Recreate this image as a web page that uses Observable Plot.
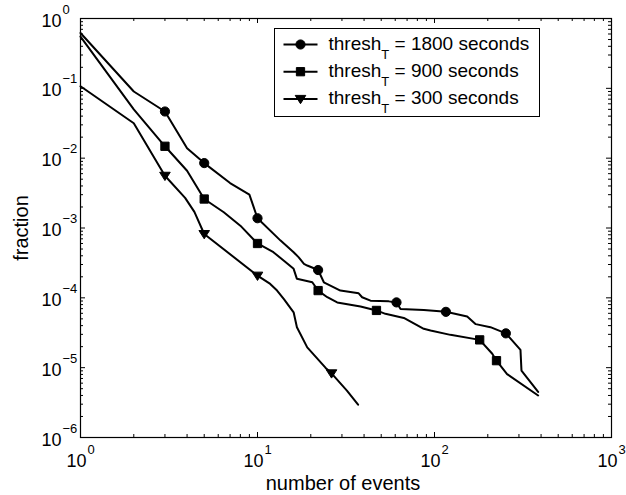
<!DOCTYPE html>
<html><head><meta charset="utf-8">
<script src="https://cdn.jsdelivr.net/npm/d3@7"></script>
<script src="https://cdn.jsdelivr.net/npm/@observablehq/plot@0.6"></script>
<style>body{margin:0;background:#fff}</style>
</head><body><div id="chart"></div>
<script>
// ---- data ----
const legendValues = [1800, 900, 300];

const x1800 = [1, 2, 3, 4, 5, 7, 9, 10, 13.5, 16, 17.1, 18.3, 19.1, 22, 23.7, 29.4, 37.3, 39, 43.5, 55.2, 61, 64.3, 87, 116, 153, 171, 207, 253, 306, 310, 385];
const y1800 = [0.62, 0.090, 0.0466, 0.0139, 0.0085, 0.0044, 0.0030, 0.00138, 6.6e-4, 4.5e-4, 3.8e-4, 3.06e-4, 2.9e-4, 2.5e-4, 1.67e-4, 1.27e-4, 1.16e-4, 1.02e-4, 9.1e-5, 8.9e-5, 8.6e-5, 6.9e-5, 6.7e-5, 6.3e-5, 5.4e-5, 4.2e-5, 3.8e-5, 3.1e-5, 1.8e-5, 9.1e-6, 4.5e-6];
const mx1800 = [3, 5, 10, 22, 61, 116, 253];
const my1800 = [0.0466, 0.0085, 0.00138, 2.5e-4, 8.6e-5, 6.3e-5, 3.1e-5];

const x900 = [1, 2, 3, 4, 5, 6.45, 8, 10, 12.3, 14.1, 16, 16.7, 20.4, 22, 24.8, 28.2, 38.2, 47, 52.8, 67.1, 87, 95, 123, 180, 212, 224, 257, 385];
const y900 = [0.55, 0.05, 0.0148, 0.0066, 0.0026, 0.00168, 0.00108, 6.0e-4, 4.5e-4, 3.4e-4, 2.6e-4, 1.87e-4, 1.67e-4, 1.27e-4, 1.02e-4, 8.6e-5, 7.5e-5, 6.6e-5, 5.9e-5, 5.15e-5, 3.6e-5, 3.4e-5, 2.95e-5, 2.5e-5, 1.58e-5, 1.26e-5, 8.1e-6, 4.0e-6];
const mx900 = [3, 5, 10, 22, 47, 180, 224];
const my900 = [0.0148, 0.0026, 6.0e-4, 1.27e-4, 6.6e-5, 2.5e-5, 1.26e-5];

const x300 = [1, 2, 3, 3.9, 4.4, 5, 10, 11.8, 12.9, 14.1, 16, 16.7, 19.1, 24.2, 26.2, 32, 37];
const y300 = [0.107, 0.0316, 0.0056, 0.0027, 0.0017, 8.2e-4, 2.08e-4, 1.58e-4, 1.27e-4, 9.6e-5, 6.2e-5, 3.8e-5, 1.95e-5, 1.0e-5, 8.3e-6, 4.7e-6, 2.95e-6];
const mx300 = [3, 5, 10, 26.2];
const my300 = [0.0056, 8.2e-4, 2.08e-4, 8.3e-6];

const xDecades = [1, 10, 100, 1000];
const xExponents = ["0", "1", "2", "3"];
const yDecades = [1e-6, 1e-5, 1e-4, 1e-3, 1e-2, 1e-1, 1];
const yExponents = ["\u22126", "\u22125", "\u22124", "\u22123", "\u22122", "\u22121", "0"];
const xLabel = "number of events";
const yLabel = "fraction";

// ---- helpers ----
const zip = (xs, ys) => xs.map((x, i) => ({x, y: ys[i]}));
const minorOf = (decades) => decades.slice(0, -1).flatMap(d => [2,3,4,5,6,7,8,9].map(m => m * d));

const circleSym = {draw(c, s) { const r = Math.sqrt(s / Math.PI); c.moveTo(r, 0); c.arc(0, 0, r, 0, 2 * Math.PI); }};
const squareSym = {draw(c, s) { const r = Math.sqrt(s / Math.PI) * 0.9; c.moveTo(-r, -r); c.lineTo(r, -r); c.lineTo(r, r); c.lineTo(-r, r); c.closePath(); }};
const triSym = {draw(c, s) { const r = Math.sqrt(s / Math.PI); const w = r * 1.15, h = r * 0.95; c.moveTo(-w, -h * 0.8); c.lineTo(w, -h * 0.8); c.lineTo(0, h * 1.1); c.closePath(); }};
const lineSym = {draw(c, s) { c.moveTo(-17, 0); c.lineTo(17, 0); }};

const seriesDefs = [
  {v: legendValues[0], line: zip(x1800, y1800), marks: zip(mx1800, my1800), sym: circleSym},
  {v: legendValues[1], line: zip(x900, y900), marks: zip(mx900, my900), sym: squareSym},
  {v: legendValues[2], line: zip(x300, y300), marks: zip(mx300, my300), sym: triSym}
];

const W = 626, H = 495, mT = 18, mR = 15, mB = 58, mL = 80;
const iW = W - mL - mR, iH = H - mT - mB;
const FONT = "'Liberation Sans', Arial, Helvetica, sans-serif";
const tickFs = 18, expFs = 13, labelFs = 20, legFs = 19, subFs = 13;

const cv = document.createElement("canvas").getContext("2d");
const measure = (t, fs) => { cv.font = `${fs}px ${FONT}`; return cv.measureText(t).width; };

const majLen = 5, minLen = 3;
const xMinor = minorOf(xDecades), yMinor = minorOf(yDecades);

const marks = [
  // ticks (inward, all four sides)
  Plot.ruleX(xDecades, {insetTop: iH - majLen, stroke: "black"}),
  Plot.ruleX(xDecades, {insetBottom: iH - majLen, stroke: "black"}),
  Plot.ruleX(xMinor, {insetTop: iH - minLen, stroke: "black"}),
  Plot.ruleX(xMinor, {insetBottom: iH - minLen, stroke: "black"}),
  Plot.ruleY(yDecades, {insetRight: iW - majLen, stroke: "black"}),
  Plot.ruleY(yDecades, {insetLeft: iW - majLen, stroke: "black"}),
  Plot.ruleY(yMinor, {insetRight: iW - minLen, stroke: "black"}),
  Plot.ruleY(yMinor, {insetLeft: iW - minLen, stroke: "black"}),
  Plot.frame({stroke: "black", strokeWidth: 1.2}),
  // tick labels
  Plot.text(xDecades, {x: d => d, text: () => "10", frameAnchor: "bottom", dy: 29, dx: 6, textAnchor: "end", lineAnchor: "bottom", fontSize: tickFs}),
  Plot.text(xDecades, {x: d => d, text: (d, i) => xExponents[i], frameAnchor: "bottom", dy: 16, dx: 7, textAnchor: "start", lineAnchor: "bottom", fontSize: expFs}),
  Plot.text(yDecades, {y: d => d, text: () => "10", frameAnchor: "left", dx: -19, dy: 8, textAnchor: "end", lineAnchor: "bottom", fontSize: tickFs}),
  Plot.text(yDecades, {y: d => d, text: (d, i) => yExponents[i], frameAnchor: "left", dx: -18, dy: -5, textAnchor: "start", lineAnchor: "bottom", fontSize: expFs}),
  // axis labels
  Plot.text([xLabel], {text: d => d, frameAnchor: "bottom", dy: 52, dx: -3, textAnchor: "middle", lineAnchor: "bottom", fontSize: labelFs}),
  Plot.text([yLabel], {text: d => d, frameAnchor: "left", dx: -53, rotate: -90, textAnchor: "middle", lineAnchor: "bottom", fontSize: labelFs})
];

// series
for (const s of seriesDefs) {
  marks.push(Plot.line(s.line, {x: "x", y: "y", stroke: "black", strokeWidth: 2, strokeLinejoin: "miter"}));
  marks.push(Plot.dot(s.marks, {x: "x", y: "y", symbol: s.sym, r: 4.6, fill: "black", stroke: "black", strokeWidth: 1}));
}

// legend
marks.push(Plot.frame({stroke: "black", strokeWidth: 1, insetLeft: 194, insetRight: 72, insetTop: 10, insetBottom: 321, fill: "white"}));
const threshW = measure("thresh", legFs), tW = measure("T", subFs);
seriesDefs.forEach((s, i) => {
  const cy = 26 + i * 27.2;
  marks.push(Plot.dot([s.v], {frameAnchor: "top-left", dx: 220, dy: cy, symbol: lineSym, r: 4.6, stroke: "black", strokeWidth: 2, fill: "none"}));
  marks.push(Plot.dot([s.v], {frameAnchor: "top-left", dx: 220, dy: cy, symbol: s.sym, r: 4.6, fill: "black", stroke: "black", strokeWidth: 1}));
  marks.push(Plot.text([s.v], {frameAnchor: "top-left", dx: 248, dy: cy + 5.5, text: () => "thresh", textAnchor: "start", lineAnchor: "bottom", fontSize: legFs}));
  marks.push(Plot.text([s.v], {frameAnchor: "top-left", dx: 248 + threshW, dy: cy + 14, text: () => "T", textAnchor: "start", lineAnchor: "bottom", fontSize: subFs}));
  marks.push(Plot.text([s.v], {frameAnchor: "top-left", dx: 248 + threshW + tW, dy: cy + 5.5, text: d => ` = ${d} seconds`, textAnchor: "start", lineAnchor: "bottom", fontSize: legFs}));
});

const chart = Plot.plot({
  width: W, height: H,
  marginTop: mT, marginRight: mR, marginBottom: mB, marginLeft: mL,
  x: {type: "log", domain: [1, 1000], axis: null},
  y: {type: "log", domain: [1e-6, 1], axis: null},
  style: {fontFamily: FONT, fontSize: "18px", background: "white", color: "black", overflow: "visible"},
  marks
});
document.getElementById("chart").appendChild(chart);
</script>
</body></html>
